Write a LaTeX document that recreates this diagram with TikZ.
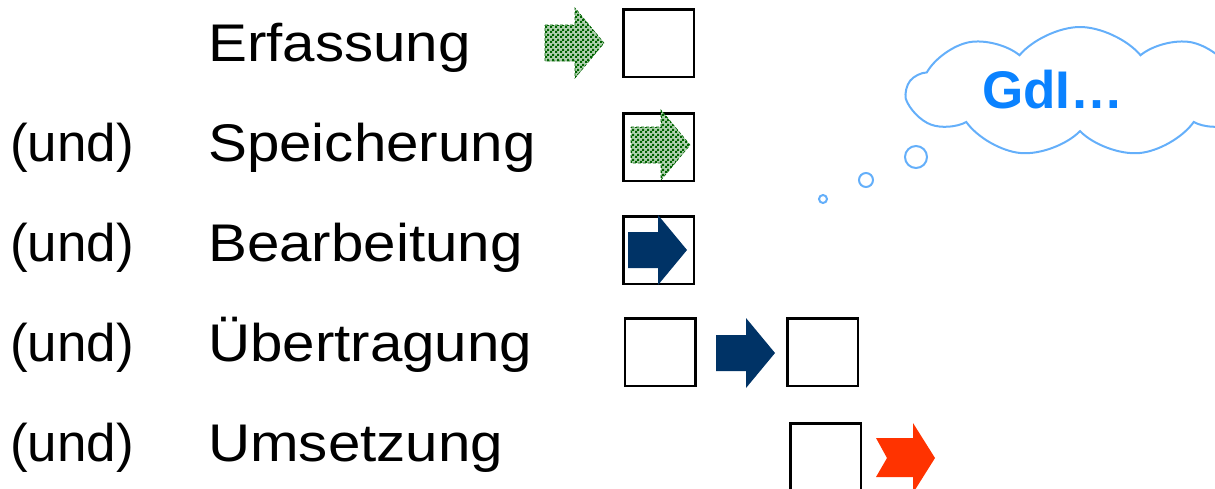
\documentclass[tikz,border=0pt]{standalone}
\usepackage{fontspec}
\setmainfont{Liberation Sans}
\newfontfamily\wortfont[FakeStretch=1.1]{Liberation Sans}
\usetikzlibrary{shapes.symbols,patterns,positioning}
\definecolor{pfeilblau}{RGB}{0,51,102}
\definecolor{pfeilrot}{RGB}{255,51,0}
\definecolor{pfeilgruen}{RGB}{0,100,0}
\definecolor{wolkenrand}{RGB}{100,175,250}
\definecolor{wolkentext}{RGB}{10,130,255}
\newcommand{\lblfont}{\fontsize{53}{60}\selectfont}
\newcommand{\blkarrow}[3]{\path[#1] (#2,#3) ++(0,-18) -- ++(30,0) -- ++(0,-17) -- ++(29,35) -- ++(-29,35) -- ++(0,-17) -- ++(-30,0) -- cycle;}
\pgfdeclarepatternformonly{feinkaro}{\pgfpointorigin}{\pgfpoint{5pt}{5pt}}{\pgfpoint{5pt}{5pt}}{
  \pgfpathrectangle{\pgfpointorigin}{\pgfpoint{2.5pt}{2.5pt}}
  \pgfpathrectangle{\pgfpoint{2.5pt}{2.5pt}}{\pgfpoint{2.5pt}{2.5pt}}
  \pgfusepath{fill}}
\tikzset{
    undsty/.style={anchor=base west, inner sep=0pt, font=\lblfont},
    lblsty/.style={anchor=base west, inner sep=0pt, font=\wortfont\lblfont},
    boxsty/.style={draw, line width=2.5pt, minimum width=70.5pt, minimum height=67.5pt, inner sep=0pt},
    gpsty/.style={fill=pfeilgruen!30, postaction={pattern=feinkaro, pattern color=pfeilgruen}, draw=pfeilgruen, densely dashed, line width=0.6pt},
    bpsty/.style={fill=pfeilblau},
    rpsty/.style={fill=pfeilrot},
    cloudsty/.style={cloud, cloud puffs=9, cloud puff arc=100, cloud ignores aspect, draw=wolkenrand, line width=2pt, minimum width=345pt, minimum height=130pt},
    bubsty/.style={circle, draw=wolkenrand, line width=2pt, inner sep=0pt},
}

\begin{document}
\begin{tikzpicture}[x=1pt,y=-1pt]
\useasboundingbox (0,0) rectangle (1215,488);
\clip (0,0) rectangle (1215,488);

\node[lblsty] (erf) at (208,61) {Erfassung};
\node[undsty] (und1) at (10,161) {(und)};
\node[lblsty] (spe) at (208,161) {Speicherung};
\node[undsty] (und2) at (10,261) {(und)};
\node[lblsty] (bea) at (208,261) {Bearbeitung};
\node[undsty] (und3) at (10,361) {(und)};
\node[lblsty] (ueb) at (208,361) {Übertragung};
\node[undsty] (und4) at (10,461) {(und)};
\node[lblsty] (ums) at (208,461) {Umsetzung};

\node[boxsty] (erfbox) at (658.5,43) {};
\node[boxsty] (spebox) at (658.5,147) {};
\node[boxsty] (beabox) at (658.5,250) {};
\node[boxsty] (uebboxA) at (660,352) {};
\node[boxsty] (uebboxB) at (822.5,352) {};
\node[boxsty] (umsbox) at (825.5,457) {};

\blkarrow{gpsty}{545}{43}
\blkarrow{gpsty}{631}{145}
\blkarrow{bpsty}{628}{250}
\blkarrow{bpsty}{716}{353}
\path[rpsty] (876,438) -- (913,438) -- (913,423) -- (935,458) -- (913,493) -- (913,477) -- (876,477) -- (887,458) -- cycle;

\node[cloudsty] (wolke) at (1080,92) {};
\node[inner sep=0pt, text=wolkentext, font=\fontsize{53}{60}\selectfont\bfseries] (gdi) at (1053,90) {GdI…};
\node[bubsty, minimum size=22pt] (blaseA) at (916,157) {};
\node[bubsty, minimum size=14pt] (blaseB) at (866,180) {};
\node[bubsty, minimum size=8pt] (blaseC) at (823,199) {};
\end{tikzpicture}
\end{document}
